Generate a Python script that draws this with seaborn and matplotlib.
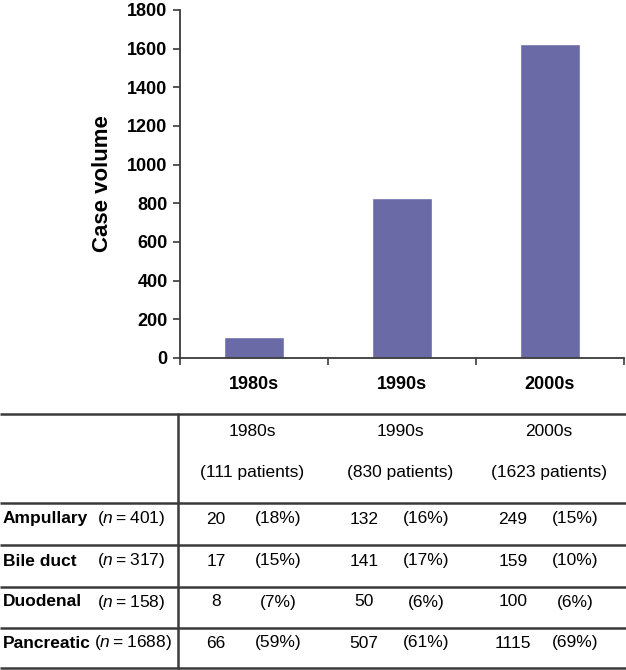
#!/usr/bin/env python3
# plot.py - case volume by decade with histology table below

import matplotlib
matplotlib.use('Agg')
import matplotlib.pyplot as plt
import pandas as pd
import seaborn as sns

# Data
decades = ['1980s', '1990s', '2000s']
case_volume = [111, 830, 1623]
histologies = ['Ampullary', 'Bile duct', 'Duodenal', 'Pancreatic']
histology_n = [401, 317, 158, 1688]
counts_1980s = [20, 17, 8, 66]
counts_1990s = [132, 141, 50, 507]
counts_2000s = [249, 159, 100, 1115]
pct_1980s = [18, 15, 7, 59]
pct_1990s = [16, 17, 6, 61]
pct_2000s = [15, 10, 6, 69]

# Style
sns.set_theme(style='white')
plt.rcParams['font.family'] = ['Liberation Sans', 'DejaVu Sans']
plt.rcParams['text.color'] = 'black'
plt.rcParams['mathtext.fontset'] = 'custom'
plt.rcParams['mathtext.rm'] = 'Liberation Sans'
plt.rcParams['mathtext.it'] = 'Liberation Sans:italic'

BAR_COLOR = '#6a6aa6'
LINE_COLOR = '#3a3a3a'

fig = plt.figure(figsize=(6.26, 6.70), dpi=100)
W, H = 626, 670

# Bar chart (pixel layout -> figure fraction)
ax = fig.add_axes([180 / W, 1 - 358 / H, 444 / W, 348 / H])
df = pd.DataFrame({'decade': decades, 'cases': case_volume})
sns.barplot(data=df, x='decade', y='cases', color=BAR_COLOR, width=0.4,
            saturation=1, ax=ax)

ax.set_ylim(0, 1800)
ax.set_yticks(range(0, 1801, 200))
ax.set_xlim(-0.5, 2.5)
ax.set_xlabel('')
ax.set_ylabel('Case volume', fontsize=16, fontweight='bold', color='black')
ax.yaxis.set_label_coords(-0.152, 0.5)

for side in ['top', 'right']:
    ax.spines[side].set_visible(False)
for side in ['left', 'bottom']:
    ax.spines[side].set_color(LINE_COLOR)
    ax.spines[side].set_linewidth(1.3)

ax.tick_params(axis='y', which='major', direction='out', length=5, width=1.2,
               color=LINE_COLOR, labelsize=13, pad=4, left=True)
ax.tick_params(axis='x', which='major', length=0, labelsize=13, pad=13)
ax.set_xticks([-0.5, 0.5, 1.5, 2.5], minor=True)
ax.tick_params(axis='x', which='minor', direction='out', length=5, width=1.2,
               color=LINE_COLOR, bottom=True)
for lbl in ax.get_xticklabels() + ax.get_yticklabels():
    lbl.set_fontweight('bold')
    lbl.set_color('black')

# Table (drawn in pixel coordinates on an overlay axes)
tax = fig.add_axes([0, 0, 1, 1])
tax.set_xlim(0, W)
tax.set_ylim(H, 0)
tax.axis('off')

h_lines = [414, 503, 545, 587, 628, 668]
for y in h_lines:
    tax.plot([0, W], [y, y], color=LINE_COLOR, lw=1.8, solid_capstyle='butt')
tax.plot([178, 178], [h_lines[0], h_lines[-1]], color=LINE_COLOR, lw=1.8)

col_centers = [252, 400, 549]
fs = 12.5
for c, dec, n_pat in zip(col_centers, decades, case_volume):
    tax.text(c, 432, dec, ha='center', va='center', fontsize=fs)
    tax.text(c, 472, f'({n_pat} patients)', ha='center', va='center', fontsize=fs)

row_y = [519, 561, 602, 643]
counts = [counts_1980s, counts_1990s, counts_2000s]
pcts = [pct_1980s, pct_1990s, pct_2000s]
for i, (name, n) in enumerate(zip(histologies, histology_n)):
    y = row_y[i]
    tax.text(3, y, name, ha='left', va='center', fontsize=fs, fontweight='bold')
    n_x = 94 if n >= 1000 else 97
    tax.text(n_x, y, f'($n$\u2009=\u2009{n})', ha='left', va='center', fontsize=fs)
    for c, cnt, pct in zip(col_centers, counts, pcts):
        tax.text(c - 36, y, str(cnt[i]), ha='center', va='center', fontsize=fs)
        tax.text(c + 26, y, f'({pct[i]}%)', ha='center', va='center', fontsize=fs)

plt.savefig('out.png', dpi=100)
